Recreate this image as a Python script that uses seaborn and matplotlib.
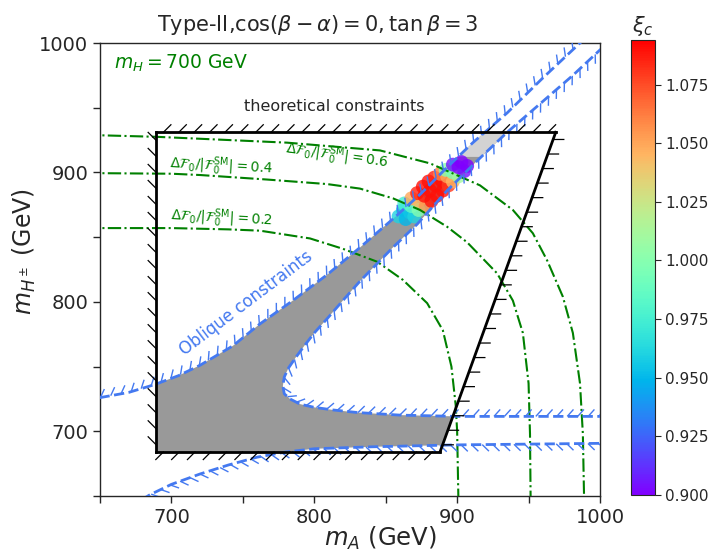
import numpy as np
import matplotlib
matplotlib.use("Agg")
import matplotlib.pyplot as plt
import matplotlib.patheffects as pe
from matplotlib.patches import Polygon
from matplotlib.colors import Normalize
from matplotlib.cm import ScalarMappable
import seaborn as sns

sns.set_style("ticks")

# theoretical constraints: corners of the allowed region (mA, mH+-)
theory_mA = [689, 689, 969, 888]
theory_mHc = [684, 931, 931, 684]

# oblique constraints, upper-left edge of the band
oblA_mA = [640, 650, 670, 688, 705, 720, 743, 762, 785, 809, 832, 855, 875, 893, 911, 935, 960, 986, 1000]
oblA_mHc = [722, 726, 730, 736, 743, 751, 766, 783, 801, 821, 842, 864, 884, 904, 923, 946, 973, 1000, 1014]

# oblique constraints, lower-right edge of the band (goes round the nose)
oblB_mA = [1010, 981, 958, 935, 914, 893, 872, 855, 832, 820, 809, 800, 793, 787, 782, 779, 778,
           779, 783, 790, 800, 813, 830, 860, 900, 950, 1010]
oblB_mHc = [1005, 975, 953, 931, 909, 886, 860, 842, 816, 801, 787, 776, 766, 757, 749, 742, 735,
            729, 725, 721, 718.5, 716.5, 714.5, 712.5, 711.5, 711.5, 711.5]

# oblique constraints, lower edge
oblC_mA = [670, 685, 700, 720, 740, 760, 780, 800, 840, 900, 1010]
oblC_mHc = [641, 651, 659, 667, 674, 680, 684, 686.5, 688, 689.5, 690.8]

# Delta F0 / |F0 SM| contours
f02_mA = [640, 700, 740, 762, 797, 820, 844, 862, 879, 890, 896, 899, 900, 901]
f02_mHc = [857, 857, 856, 855, 849, 841, 831, 817, 799, 778, 750, 720, 700, 640]
f04_mA = [640, 700, 720, 767, 809, 832, 855, 874, 893, 907, 928, 939, 946, 950, 951, 951.5]
f04_mHc = [899.5, 899, 898, 894.5, 891, 887.5, 880, 871, 858, 846, 822, 801, 776, 737, 698, 640]
f06_mA = [640, 690, 781, 846, 881, 916, 939, 953, 963, 974, 981, 986, 988, 989]
f06_mHc = [929, 927.5, 923, 917, 907, 890, 871, 853, 832, 804, 776, 737, 698, 640]

# scan points coloured by xi_c
pts_mA = [859, 862, 864, 867, 870, 863, 868, 873,
          868, 873, 878,
          872, 877, 882, 876, 881, 886, 880, 885, 890, 884, 889, 894,
          888, 893, 897,
          892, 897, 901,
          897, 901, 905, 903, 907]
pts_mHc = [866, 871, 864, 869, 866, 876, 874, 871,
           880, 878, 874,
           884, 882, 878, 889, 886, 882, 893, 890, 886, 896, 894, 890,
           899, 897, 893,
           902, 900, 897,
           906, 904, 901, 908, 905]
pts_xi = [0.960, 0.955, 0.950, 0.955, 0.960, 0.975, 0.985, 1.000,
          1.050, 1.045, 1.055,
          1.085, 1.090, 1.090, 1.090, 1.090, 1.090, 1.090, 1.090, 1.090, 1.085, 1.090, 1.080,
          1.060, 1.050, 1.045,
          1.000, 0.995, 1.010,
          0.905, 0.900, 0.905, 0.900, 0.900]

xi_min, xi_max = 0.900, 1.094
lightgray_above = 912

blue = "#4479f0"

fig = plt.figure(figsize=(7.12, 5.52), dpi=100)
ax = fig.add_axes([100 / 712, 1 - 496 / 552, 500 / 712, 453 / 552])
cax = fig.add_axes([631 / 712, 1 - 495 / 552, 24 / 712, 455 / 552])

theory_patch = Polygon(np.column_stack([theory_mA, theory_mHc]), closed=True,
                       transform=ax.transData, facecolor="none", edgecolor="none")

# allowed region (gray)
region_mA = oblA_mA + oblB_mA + oblC_mA[::-1]
region_mHc = oblA_mHc + oblB_mHc + oblC_mHc[::-1]
gray = ax.fill(region_mA, region_mHc, color="#999999", lw=0, zorder=1)[0]
gray.set_clip_path(theory_patch)

# upper part of the band in light gray
x_right = np.interp(lightgray_above, [theory_mHc[3], theory_mHc[2]], [theory_mA[3], theory_mA[2]])
light_clip = Polygon([[theory_mA[0], lightgray_above], [theory_mA[1], theory_mHc[1]],
                      [theory_mA[2], theory_mHc[2]], [x_right, lightgray_above]],
                     closed=True, transform=ax.transData)
light = ax.fill(region_mA, region_mHc, color="lightgray", lw=0, zorder=1.1)[0]
light.set_clip_path(light_clip)

# scan points
sns.scatterplot(x=pts_mA, y=pts_mHc, hue=pts_xi, palette="rainbow", hue_norm=(xi_min, xi_max),
                s=100, alpha=0.8, edgecolor="none", legend=False, ax=ax, zorder=2)

# green contours
for fx, fy in [(f02_mA, f02_mHc), (f04_mA, f04_mHc), (f06_mA, f06_mHc)]:
    ax.plot(fx, fy, color="green", ls="-.", lw=1.5, zorder=3)

# oblique constraint lines with ticks
tick_b = dict(spacing=7.5, length=0.9, linewidth=1.0, dashes={"dash_offset": 0, "dash_list": None})
ax.plot(oblA_mA, oblA_mHc, color=blue, lw=2, ls="--", zorder=4,
        path_effects=[pe.withTickedStroke(angle=55, **tick_b)])
ax.plot(oblB_mA, oblB_mHc, color=blue, lw=2, ls="--", zorder=4,
        path_effects=[pe.withTickedStroke(angle=48, **tick_b)])
ax.plot(oblC_mA, oblC_mHc, color=blue, lw=2, ls="--", zorder=4,
        path_effects=[pe.withTickedStroke(angle=-45, **tick_b)])

# theoretical constraint edges
tick_k = dict(spacing=11, length=0.7, linewidth=0.9)
edges = [((0, 1), 45), ((1, 2), 45), ((3, 0), 45), ((2, 3), 110)]
for (i, j), ang in edges:
    ax.plot([theory_mA[i], theory_mA[j]], [theory_mHc[i], theory_mHc[j]], color="black", lw=2,
            solid_capstyle="projecting", zorder=5, path_effects=[pe.withTickedStroke(angle=ang, **tick_k)])

# texts
ax.text(814, 951, "theoretical constraints", fontsize=11.5, ha="center", va="center")
ax.text(660, 984.5, r"$m_H=700$ GeV", color="green", fontsize=13.5, ha="left", va="center")
ax.text(752, 799, "Oblique constraints", color=blue, fontsize=12, rotation=37,
        ha="center", va="center", rotation_mode="anchor")
ax.text(735, 864.5, r"$\Delta\mathcal{F}_0/|\mathcal{F}_0^{\rm SM}|=0.2$", color="green",
        fontsize=10, ha="center", va="center", rotation=-3, rotation_mode="anchor")
ax.text(735, 904.5, r"$\Delta\mathcal{F}_0/|\mathcal{F}_0^{\rm SM}|=0.4$", color="green",
        fontsize=10, ha="center", va="center", rotation=-3, rotation_mode="anchor")
ax.text(816, 912.5, r"$\Delta\mathcal{F}_0/|\mathcal{F}_0^{\rm SM}|=0.6$", color="green",
        fontsize=10, ha="center", va="center", rotation=-8, rotation_mode="anchor")

ax.set_xlim(650, 1000)
ax.set_ylim(650, 1000)
ax.set_xticks([700, 800, 900, 1000])
ax.set_xticks([650, 750, 850, 950], minor=True)
ax.set_yticks([700, 800, 900, 1000])
ax.set_yticks([650, 750, 850, 950], minor=True)
ax.tick_params(which="both", direction="out", length=5, width=1, labelsize=14)
for s in ax.spines.values():
    s.set_visible(True)
    s.set_linewidth(1)

fig.text(318 / 712, 1 - 25 / 552, r"Type-II,$\cos(\beta-\alpha)=0, \tan\beta=3$", fontsize=15,
         ha="center", va="center")
fig.text(380 / 712, 1 - 538 / 552, r"$m_A$ (GeV)", fontsize=17.5, ha="center", va="center")
fig.text(24 / 712, 1 - 252 / 552, r"$m_{H^\pm}$ (GeV)", fontsize=17, ha="center", va="center",
         rotation=90)

# colour bar
sm = ScalarMappable(norm=Normalize(xi_min, xi_max), cmap="rainbow")
cb = fig.colorbar(sm, cax=cax, ticks=[0.9, 0.925, 0.95, 0.975, 1.0, 1.025, 1.05, 1.075], format="%.3f")
cb.ax.tick_params(labelsize=11, length=4)
cax.set_title(r"$\xi_c$", fontsize=15, pad=6)

fig.savefig("out.png", dpi=100)
